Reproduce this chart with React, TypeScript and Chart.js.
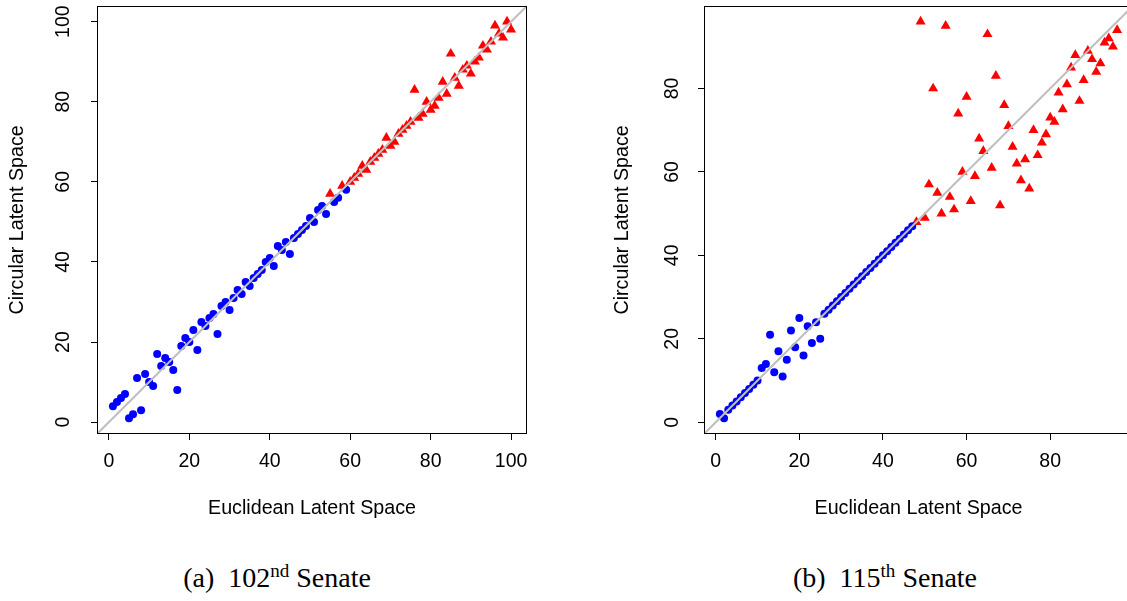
import React, { useEffect, useRef } from "react";
import { Chart, registerables } from "chart.js";

Chart.register(...registerables);

// ---------- data ----------
const ticksA = [0, 20, 40, 60, 80, 100];
const ticksB = [0, 20, 40, 60, 80];
const rangeA = [-2.96, 103.96];
const rangeB = [-2.8, 99.8];
const diagonal = [-10, 110];

const xTitle = "Euclidean Latent Space";
const yTitle = "Circular Latent Space";

// (a) 102nd Senate
const aBlueX = [1, 2, 3, 4, 5, 6, 7, 8, 9, 10, 11, 12, 13, 14, 15, 16, 17, 18, 19, 20, 21, 22, 23, 24, 25, 26, 27, 28, 29, 30, 31, 32, 33, 34, 35, 36, 37, 38, 39, 40, 41, 42, 43, 44, 45, 46, 47, 48, 49, 50, 51, 52, 53, 54, 56, 57, 59];
const aBlueY = [4, 5, 6, 7, 1, 2, 11, 3, 12, 10, 9, 17, 14, 16, 15, 13, 8, 19, 21, 20, 23, 18, 25, 24, 26, 27, 22, 29, 30, 28, 31, 33, 32, 35, 34, 36, 37, 38, 40, 41, 39, 44, 43, 45, 42, 46, 47, 48, 49, 51, 50, 53, 54, 52, 55, 56, 58];
const aRedX = [55, 58, 60, 61, 62, 63, 64, 65, 66, 67, 68, 69, 70, 71, 72, 73, 74, 75, 76, 77, 78, 79, 80, 81, 82, 83, 84, 85, 86, 87, 88, 89, 90, 91, 92, 93, 94, 95, 96, 97, 98, 99, 100];
const aRedY = [57, 59, 60, 61, 62, 64, 63, 65, 66, 67, 68, 71, 69, 70, 72, 73, 74, 75, 83, 76, 77, 80, 78, 79, 81, 85, 82, 92, 86, 84, 88, 89, 87, 90, 91, 94, 93, 95, 99, 97, 96, 100, 98];

// (b) 115th Senate
const bBlueX = [1, 2, 3, 4, 5, 6, 7, 8, 9, 10, 11, 12, 13, 14, 15, 16, 17, 18, 19, 20, 21, 22, 23, 24, 25, 26, 27, 28, 29, 30, 31, 32, 33, 34, 35, 36, 37, 38, 39, 40, 41, 42, 43, 44, 45, 46, 47];
const bBlueY = [2, 1, 3, 4, 5, 6, 7, 8, 9, 10, 13, 14, 21, 12, 17, 11, 15, 22, 18, 25, 16, 23, 19, 24, 20, 26, 27, 28, 29, 30, 31, 32, 33, 34, 35, 36, 37, 38, 39, 40, 41, 42, 43, 44, 45, 46, 47];
const bRedX = [48, 49, 50, 51, 52, 53, 54, 55, 56, 57, 58, 59, 60, 61, 62, 63, 64, 65, 66, 67, 68, 69, 70, 71, 72, 73, 74, 75, 76, 77, 78, 79, 80, 81, 82, 83, 84, 85, 86, 87, 88, 89, 90, 91, 92, 93, 94, 95, 96];
const bRedY = [48, 96, 49, 57, 80, 55, 50, 95, 54, 51, 74, 60, 78, 53, 59, 68, 65, 93, 61, 83, 52, 76, 71, 66, 62, 58, 63, 56, 70, 64, 67, 69, 73, 72, 79, 75, 81, 85, 88, 77, 82, 89, 87, 84, 86, 91, 92, 90, 94];

// ---------- chart ----------
const FONT = "'Liberation Sans', Arial, Helvetica, sans-serif";

const boxPlugin = {
  id: "plotBox",
  afterDraw(chart: any) {
    const { ctx, chartArea: a } = chart;
    ctx.save();
    ctx.strokeStyle = "#000";
    ctx.lineWidth = 1;
    const l = Math.round(a.left) + 0.5;
    const t = Math.round(a.top) + 0.5;
    const r = Math.round(a.right) - 0.5;
    const b = Math.round(a.bottom) - 0.5;
    ctx.strokeRect(l, t, r - l, b - t);
    ctx.restore();
  },
};

const toPts = (xs: number[], ys: number[]) => xs.map((x, i) => ({ x, y: ys[i] }));

type PanelProps = {
  left: number;
  blueX: number[];
  blueY: number[];
  redX: number[];
  redY: number[];
  ticks: number[];
  range: number[];
  padRight: number;
  yTickPad: number;
  yTitlePad: number;
};

function Panel(p: PanelProps) {
  const ref = useRef<HTMLCanvasElement | null>(null);
  useEffect(() => {
    if (!ref.current) return;
    const tickFont = { family: FONT, size: 19.5, lineHeight: 1.2 };
    const titleFont = { family: FONT, size: 19.7, lineHeight: 1.2 };
    const setTicks = (s: any) => {
      s.ticks = p.ticks.map((v) => ({ value: v }));
    };
    const chart = new Chart(ref.current, {
      type: "scatter",
      data: {
        datasets: [
          {
            data: [
              { x: diagonal[0], y: diagonal[0] },
              { x: diagonal[1], y: diagonal[1] },
            ],
            showLine: true,
            borderColor: "#BEBEBE",
            borderWidth: 2,
            pointRadius: 0,
            order: 0,
          },
          {
            data: toPts(p.blueX, p.blueY),
            pointStyle: "circle",
            pointRadius: 4,
            pointBackgroundColor: "#0000FF",
            pointBorderWidth: 0,
            order: 1,
          },
          {
            data: toPts(p.redX, p.redY),
            pointStyle: "triangle",
            pointRadius: 5.8,
            pointBackgroundColor: "#FF0000",
            pointBorderWidth: 0,
            order: 2,
          },
        ] as any,
      },
      options: {
        animation: false,
        responsive: false,
        events: [],
        layout: { padding: { left: 0, top: 5, right: p.padRight, bottom: 0 } },
        plugins: { legend: { display: false }, tooltip: { enabled: false } },
        scales: {
          x: {
            type: "linear",
            min: p.range[0],
            max: p.range[1],
            afterBuildTicks: setTicks,
            afterFit: (s: any) => {
              s.height = 86;
              s.paddingLeft = 0;
              s.paddingRight = 0;
              s.paddingTop = 0;
              s.paddingBottom = 0;
            },
            grid: { display: true, drawOnChartArea: false, drawTicks: true, tickLength: 6, color: "#000", lineWidth: 1 },
            border: { display: false },
            ticks: { color: "#000", font: tickFont, padding: 10, maxRotation: 0, minRotation: 0, autoSkip: false },
            title: { display: true, text: xTitle, color: "#000", font: titleFont, padding: 0 },
          },
          y: {
            type: "linear",
            min: p.range[0],
            max: p.range[1],
            afterBuildTicks: setTicks,
            afterFit: (s: any) => {
              s.width = 97;
              s.paddingLeft = 0;
              s.paddingRight = 0;
              s.paddingTop = 0;
              s.paddingBottom = 0;
            },
            grid: { display: true, drawOnChartArea: false, drawTicks: true, tickLength: 6, color: "#000", lineWidth: 1 },
            border: { display: false },
            ticks: {
              color: "#000",
              font: tickFont,
              padding: p.yTickPad,
              minRotation: 90,
              maxRotation: 90,
              crossAlign: "center",
              autoSkip: false,
            },
            title: { display: true, text: yTitle, color: "#000", font: titleFont, padding: { top: p.yTitlePad, bottom: 0 } },
          },
        },
      } as any,
      plugins: [boxPlugin],
    });
    return () => chart.destroy();
  }, []);
  return (
    <canvas
      ref={ref}
      width={540}
      height={520}
      style={{ position: "absolute", left: p.left, top: 0, width: 540, height: 520 }}
    />
  );
}

const captionStyle = (center: number): React.CSSProperties => ({
  position: "absolute",
  left: center - 200,
  width: 400,
  top: 561,
  textAlign: "center",
  fontFamily: "'Liberation Serif', 'Times New Roman', serif",
  fontSize: 28,
  lineHeight: "34px",
  color: "#000",
  whiteSpace: "nowrap",
});

const supStyle: React.CSSProperties = { fontSize: "0.68em", verticalAlign: "0.55em", lineHeight: 0 };

export default function App() {
  return (
    <div
      style={{
        position: "fixed",
        left: 0,
        top: 0,
        width: 1127,
        height: 601,
        overflow: "hidden",
        background: "#fff",
      }}
    >
      <Panel left={0} blueX={aBlueX} blueY={aBlueY} redX={aRedX} redY={aRedY} ticks={ticksA} range={rangeA} padRight={13} yTickPad={11} yTitlePad={6} />
      <Panel left={607} blueX={bBlueX} blueY={bBlueY} redX={bRedX} redY={bRedY} ticks={ticksB} range={rangeB} padRight={14} yTickPad={15} yTitlePad={4} />
      <div style={captionStyle(277)}>
        (a)&ensp;102<span style={supStyle}>nd</span> Senate
      </div>
      <div style={captionStyle(885)}>
        (b)&ensp;115<span style={supStyle}>th</span> Senate
      </div>
    </div>
  );
}
